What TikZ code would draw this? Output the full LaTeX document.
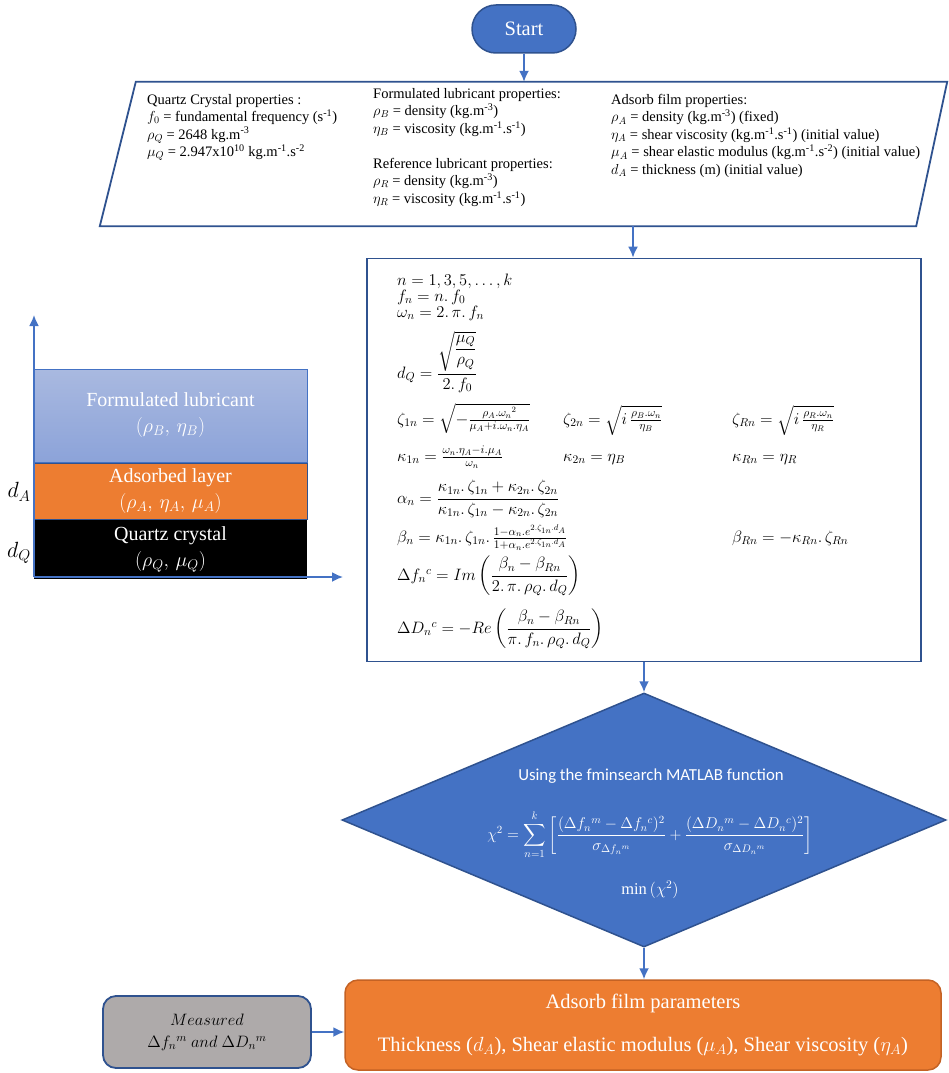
\RequirePackage{fix-cm}
\documentclass[tikz,border=0pt]{standalone}
\usepackage{amsmath,amssymb}
\usepackage{fontspec}
\setmainfont{Liberation Serif}
\newfontfamily\calibri{Carlito}
\usetikzlibrary{arrows.meta,positioning,shapes.geometric,calc}
\definecolor{OfficeBlue}{RGB}{68,114,196}
\definecolor{DeepBlue}{RGB}{47,82,143}
\definecolor{OfficeOrange}{RGB}{237,125,49}
\definecolor{DeepOrange}{RGB}{196,98,36}
\definecolor{OfficeGrey}{RGB}{174,170,170}
\definecolor{LubeTop}{RGB}{169,185,224}
\definecolor{LubeBottom}{RGB}{140,163,217}
\newcommand\mdt{.\,}
\tikzset{
  terminal/.style={draw=DeepBlue,fill=OfficeBlue,line width=1.5pt,rounded corners=24pt,
    minimum width=104pt,minimum height=48pt,text=white,font=\fontsize{20.5}{24}\selectfont},
  dataframe/.style={minimum width=847pt,minimum height=144pt,inner sep=0pt},
  dataedge/.style={draw=DeepBlue,fill=white,line width=1.8pt},
  proptext/.style={anchor=north west,align=left,inner sep=0pt,
    font=\fontsize{14.5}{17.5}\selectfont},
  process/.style={draw=DeepBlue,fill=white,line width=1.8pt,
    minimum width=554pt,minimum height=403pt},
  eqn/.style={anchor=base west,inner sep=0pt,font=\fontsize{16.5}{19}\selectfont},
  decision/.style={diamond,draw=DeepBlue,fill=OfficeBlue,line width=1.5pt,
    minimum width=604pt,minimum height=254pt,inner sep=0pt},
  whitetext/.style={text=white,inner sep=0pt},
  layer/.style={minimum width=273pt,inner sep=0pt,align=center,text=white,
    font=\fontsize{20}{26}\selectfont},
  resultbox/.style={draw=DeepOrange,fill=OfficeOrange,line width=1.5pt,rounded corners=13pt,
    minimum width=596pt,minimum height=90pt,align=center,text=white,
    font=\fontsize{20.5}{24}\selectfont},
  inputbox/.style={draw=DeepBlue,fill=OfficeGrey,line width=1.8pt,rounded corners=13pt,
    minimum width=208pt,minimum height=72pt,align=center,
    font=\fontsize{16.5}{22}\selectfont},
  arrow/.style={-{Latex[length=11pt,width=10pt]},line width=1.8pt,OfficeBlue}
}
\begin{document}
\begin{tikzpicture}[x=1pt,y=-1pt]
  \useasboundingbox (0,0) rectangle (948,1073);
  \fill[white] (0,0) rectangle (948,1073);

  % start and input data
  \node[terminal] (start) at (524,29) {Start};
  \node[dataframe] (props) at (523.5,154) {};
  \draw[dataedge] ([xshift=36pt]props.north west) -- (props.north east)
    -- ([xshift=-31pt]props.south east) -- (props.south west) -- cycle;
  \node[proptext] (quartz-props) at (147,94) {Quartz Crystal properties :\\
    $f_0$ = fundamental frequency (s\textsuperscript{-1})\\
    $\rho_Q$ = 2648 kg.m\textsuperscript{-3}\\
    $\mu_Q$ = 2.947x10\textsuperscript{10} kg.m\textsuperscript{-1}.s\textsuperscript{-2}};
  \node[proptext] (lube-props) at (373,88) {Formulated lubricant properties:\\
    $\rho_B$ = density (kg.m\textsuperscript{-3})\\
    $\eta_B$ = viscosity (kg.m\textsuperscript{-1}.s\textsuperscript{-1})\\[17.5pt]
    Reference lubricant properties:\\
    $\rho_R$ = density (kg.m\textsuperscript{-3})\\
    $\eta_R$ = viscosity (kg.m\textsuperscript{-1}.s\textsuperscript{-1})};
  \node[proptext] (film-props) at (611,94) {Adsorb film properties:\\
    $\rho_A$ = density (kg.m\textsuperscript{-3}) (fixed)\\
    $\eta_A$ = shear viscosity (kg.m\textsuperscript{-1}.s\textsuperscript{-1}) (initial value)\\
    $\mu_A$ = shear elastic modulus (kg.m\textsuperscript{-1}.s\textsuperscript{-2}) (initial value)\\
    $d_A$ = thickness (m) (initial value)};

  % model equations
  \node[process] (eqs) at (644,460) {};
  \node[eqn] (e-n) at (397,285) {$n = 1, 3, 5, \dots, k$};
  \node[eqn] (e-f) at (397,301) {$f_n = n\mdt f_0$};
  \node[eqn] (e-w) at (397,317) {$\omega_n = 2\mdt\pi\mdt f_n$};
  \node[eqn] (e-dq) at (397,378) {$d_Q = \dfrac{\sqrt{\dfrac{\mu_Q}{\rho_Q}}}{2\mdt f_0}$};
  \node[eqn] (e-z1) at (397,424) {$\zeta_{1n} = \sqrt{-\tfrac{\rho_A.\omega_n{}^2}{\mu_A+i.\omega_n.\eta_A}}$};
  \node[eqn] (e-z2) at (563,424) {$\zeta_{2n} = \sqrt{i\,\tfrac{\rho_B.\omega_n}{\eta_B}}$};
  \node[eqn] (e-zr) at (732,424) {$\zeta_{Rn} = \sqrt{i\,\tfrac{\rho_R.\omega_n}{\eta_R}}$};
  \node[eqn] (e-k1) at (397,461) {$\kappa_{1n} = \tfrac{\omega_n.\eta_A-i.\mu_A}{\omega_n}$};
  \node[eqn] (e-k2) at (563,461) {$\kappa_{2n} = \eta_B$};
  \node[eqn] (e-kr) at (732,461) {$\kappa_{Rn} = \eta_R$};
  \node[eqn] (e-a) at (397,503) {$\alpha_n = \dfrac{\kappa_{1n}\mdt\zeta_{1n}+\kappa_{2n}\mdt\zeta_{2n}}{\kappa_{1n}\mdt\zeta_{1n}-\kappa_{2n}\mdt\zeta_{2n}}$};
  \node[eqn] (e-b) at (397,542) {$\beta_n = \kappa_{1n}\mdt\zeta_{1n}\mdt\tfrac{1-\alpha_n.e^{2.\zeta_{1n}.d_A}}{1+\alpha_n.e^{2.\zeta_{1n}.d_A}}$};
  \node[eqn] (e-br) at (732,542) {$\beta_{Rn} = -\kappa_{Rn}\mdt\zeta_{Rn}$};
  \node[eqn] (e-df) at (397,580) {$\Delta f_n{}^c = Im\left(\dfrac{\beta_n-\beta_{Rn}}{2\mdt\pi\mdt\rho_Q\mdt d_Q}\right)$};
  \node[eqn] (e-dd) at (397,633) {$\Delta D_n{}^c = -Re\left(\dfrac{\beta_n-\beta_{Rn}}{\pi\mdt f_n\mdt\rho_Q\mdt d_Q}\right)$};

  % fitting step
  \node[decision] (opt) at (644,820) {};
  \node[whitetext,font=\calibri\fontsize{16.8}{20}\selectfont] (fmin) at (651,776) {Using the fminsearch MATLAB function};
  \node[whitetext,font=\fontsize{15.6}{19}\selectfont] (chi) at (650,835)
    {$\displaystyle\chi^2 = \sum_{n=1}^{k}\left[\frac{(\Delta f_n{}^m-\Delta f_n{}^c)^2}{\sigma_{\Delta f_n{}^m}}+\frac{(\Delta D_n{}^m-\Delta D_n{}^c)^2}{\sigma_{\Delta D_n{}^m}}\right]$};
  \node[whitetext,font=\fontsize{16.5}{19}\selectfont] (minchi) at (650,890) {$\min\,(\chi^2)$};

  % output
  \node[resultbox] (res) at (643,1025) {Adsorb film parameters\\[19pt]
    Thickness ($d_A$), Shear elastic modulus ($\mu_A$), Shear viscosity ($\eta_A$)};
  \node[inputbox] (meas) at (207,1032) {$Measured$\\ $\Delta f_n{}^m\ and\ \Delta D_n{}^m$};

  % layer sketch
  \node[layer,minimum height=93pt,top color=LubeTop,bottom color=LubeBottom,
    draw=OfficeBlue,line width=1pt] (lube) at (170.5,415.5) {Formulated lubricant\\ $(\rho_B,\,\eta_B)$};
  \node[layer,minimum height=56pt,fill=OfficeOrange,draw=DeepBlue,line width=1pt,
    below=0pt of lube] (adlayer) {Adsorbed layer\\ $(\rho_A,\,\eta_A,\,\mu_A)$};
  \node[layer,minimum height=59pt,fill=black,below=0pt of adlayer] (crystal) {Quartz crystal\\ $(\rho_Q,\,\mu_Q)$};
  \node[font=\fontsize{22}{24}\selectfont] (dA) at (19,492) {$d_A$};
  \node[font=\fontsize{22}{24}\selectfont] (dQ) at (19,553) {$d_Q$};
  \coordinate (orig) at (34,577);
  \coordinate (ytip) at (34,315);
  \coordinate (xtip) at (343,577);
  \draw[arrow] (orig) -- (ytip);
  \draw[arrow] (orig) -- (xtip);

  % flow
  \coordinate (feed) at ([xshift=-11pt]eqs.north);
  \draw[arrow] (start.south) -- (start.south |- props.north);
  \draw[arrow] (feed |- props.south) -- (feed);
  \draw[arrow] (opt.north |- eqs.south) -- (opt.north);
  \draw[arrow] (opt.south) -- (opt.south |- res.north);
  \draw[arrow] (meas.east) -- (meas.east -| res.west);
\end{tikzpicture}
\end{document}
